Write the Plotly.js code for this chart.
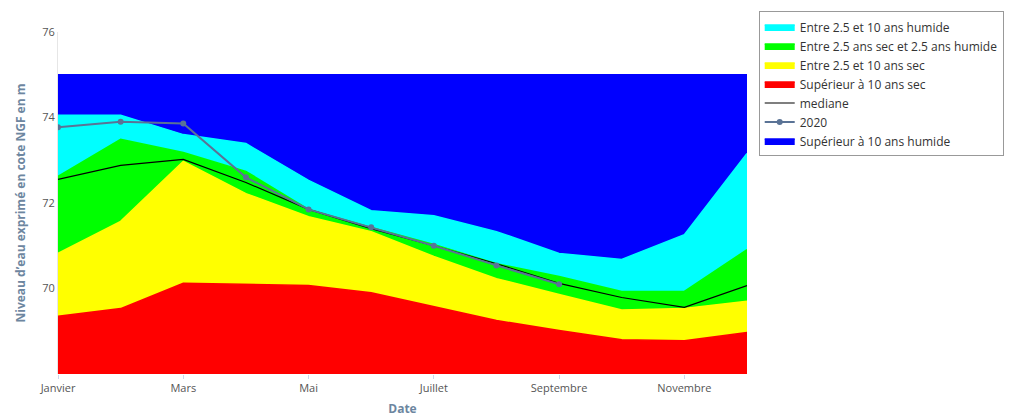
<!DOCTYPE html><html><head><meta charset="utf-8"><script src="https://cdn.plot.ly/plotly-3.0.1.min.js"></script><style>body{margin:0}</style></head><body><div id="c" style="width:1016px;height:419px"></div><script>
const months=["Janvier","Février","Mars","Avril","Mai","Juin","Juillet","Août","Septembre","Octobre","Novembre","Décembre"];
const xIdx=[0,1,2,3,4,5,6,7,8,9,10,11];
const sup10sec=[69.35,69.53,70.12,70.1,70.07,69.9,69.58,69.25,69.02,68.8,68.78,68.97];
const entre10sec=[70.82,71.57,72.97,72.22,71.68,71.33,70.75,70.23,69.86,69.5,69.53,69.7];
const entre25=[72.62,73.49,73.18,72.74,71.85,71.43,71.03,70.58,70.28,69.93,69.93,70.91];
const entre10hum=[74.05,74.05,73.6,73.39,72.53,71.82,71.7,71.33,70.82,70.68,71.26,73.16];
const sup10hum=[75,75,75,75,75,75,75,75,75,75,75,75];
const mediane=[72.55,72.88,73.02,72.48,71.85,71.4,71.0,70.58,70.12,69.79,69.56,70.07];
const y2020=[73.77,73.9,73.86,72.6,71.85,71.43,71.0,70.54,70.1];
const tickVals=[0,2,4,6,8,10];
const tickText=["Janvier","Mars","Mai","Juillet","Septembre","Novembre"];
function area(name,y,col,fill,rank){return {x:xIdx,y:y,name:name,type:'scatter',mode:'lines',fill:fill,fillcolor:col,line:{color:col,width:1.5},legendrank:rank,hoverinfo:'skip'};}
const data=[
area("Supérieur à 10 ans sec",sup10sec,"#ff0000","tozeroy",4),
area("Entre 2.5 et 10 ans sec",entre10sec,"#ffff00","tonexty",3),
area("Entre 2.5 ans sec et 2.5 ans humide",entre25,"#00ff00","tonexty",2),
area("Entre 2.5 et 10 ans humide",entre10hum,"#00ffff","tonexty",1),
area("Supérieur à 10 ans humide",sup10hum,"#0000ff","tonexty",7),
{x:xIdx,y:mediane,name:"mediane",type:'scatter',mode:'lines',line:{color:'#000',width:1.2},legendrank:5},
{x:xIdx.slice(0,y2020.length),y:y2020,name:"2020",type:'scatter',mode:'lines+markers',line:{color:'#5a7396',width:2},marker:{size:6,color:'#5a7396'},legendrank:6}
];
const layout={width:1016,height:419,margin:{l:58,r:266,t:30,b:45},paper_bgcolor:'#fff',plot_bgcolor:'#fff',showlegend:true,
font:{family:'Open Sans, sans-serif',color:'#666',size:12},
xaxis:{range:[0,11],tickvals:tickVals,ticktext:tickText,showgrid:false,zeroline:false,ticks:'outside',ticklen:4,tickcolor:'#ccd6eb',tickfont:{size:11,color:'#555'},
title:{text:'Date',font:{size:12,color:'#6d86a0',weight:'bold'},standoff:10}},
yaxis:{range:[68,76],tickvals:[70,72,74,76],showgrid:false,zeroline:false,showline:true,linecolor:'#e6e6e6',tickfont:{size:11,color:'#555'},
title:{text:"Niveau d’eau exprimé en cote NGF en m",font:{size:12,color:'#6d86a0',weight:'bold'},standoff:14}},
legend:{x:1.017,y:1.06,xanchor:'left',yanchor:'top',traceorder:'normal',bordercolor:'#999',borderwidth:1,bgcolor:'#fff',font:{size:12,color:'#333'},tracegroupgap:0}
};
Plotly.newPlot('c',data,layout,{displayModeBar:false});
</script></body></html>
